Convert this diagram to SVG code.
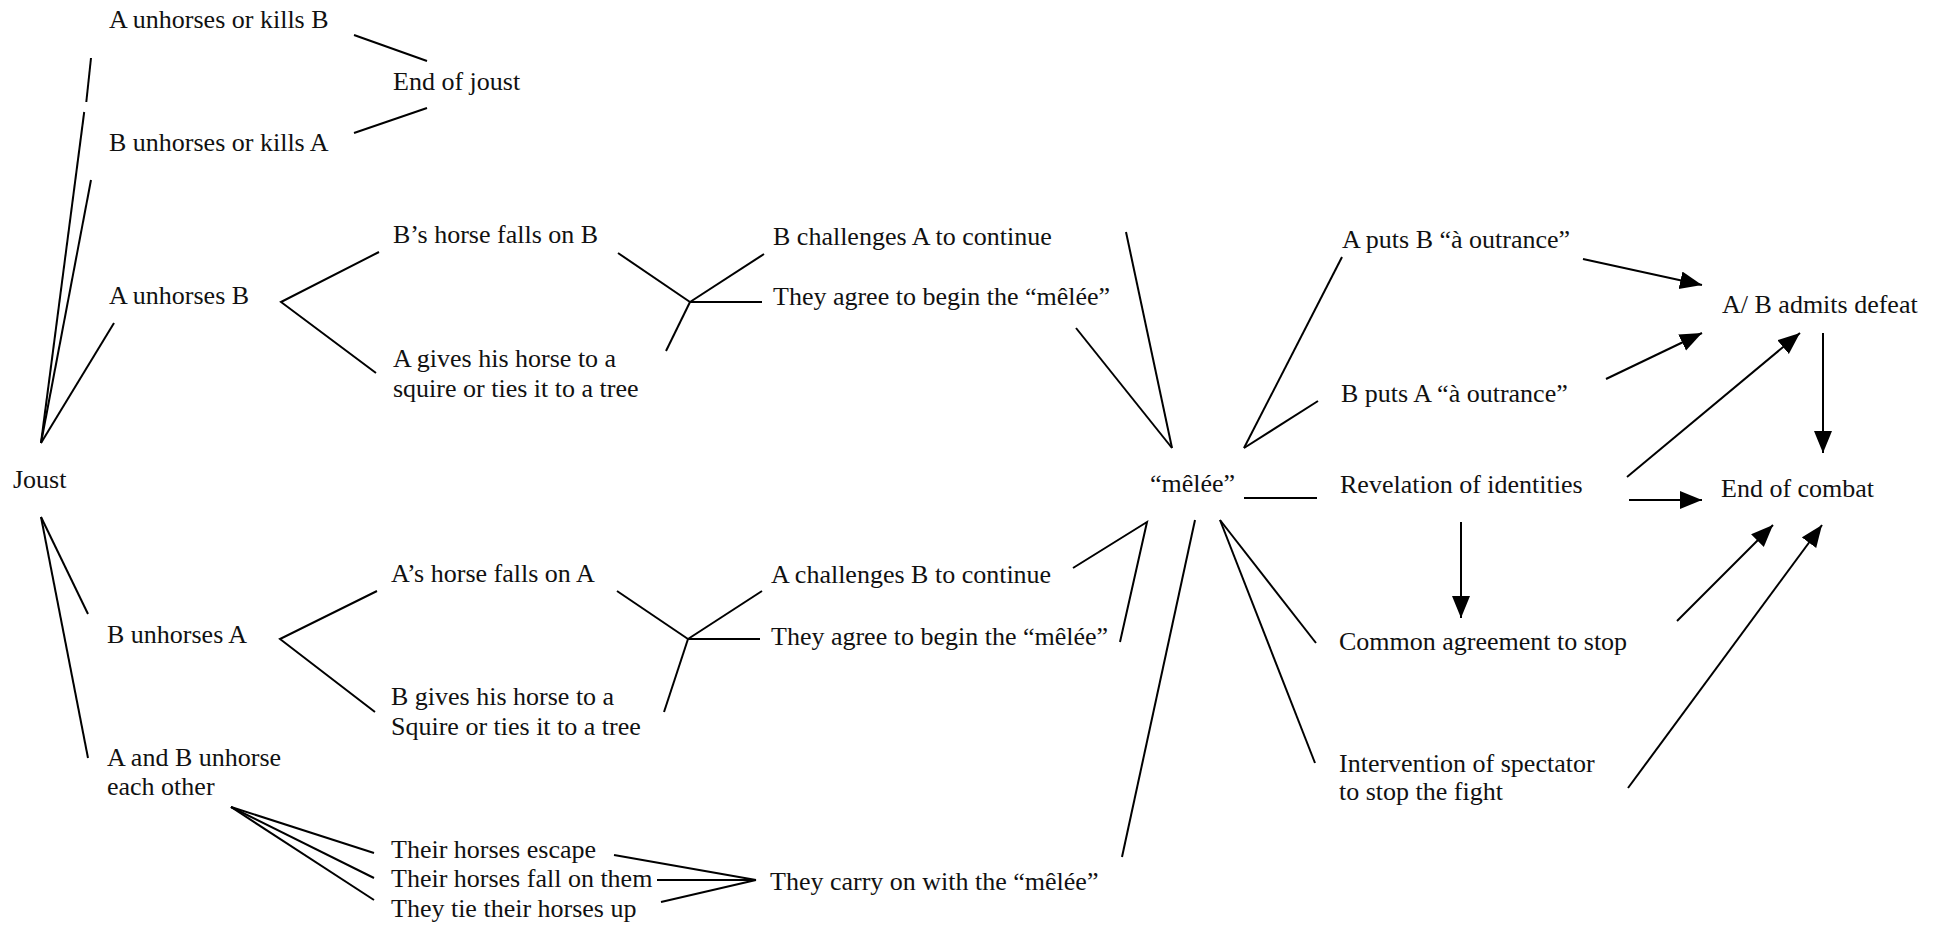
<svg xmlns="http://www.w3.org/2000/svg" width="1946" height="927" viewBox="0 0 1946 927">
<style>
text{font-family:"Liberation Serif","Times New Roman",serif;font-size:26px;fill:#111}
.c line,.c polyline{stroke:#000;stroke-width:2;fill:none}
.a{marker-end:url(#ah)}
</style>
<defs>
<marker id="ah" markerUnits="userSpaceOnUse" markerWidth="26" markerHeight="20" refX="22" refY="9" orient="auto">
<path d="M0,0 L22,9 L0,18 z" fill="#000"/>
</marker>
</defs>
<rect width="1946" height="927" fill="#fff"/>
<g id="n-joust"><text x="13" y="488">Joust</text></g>
<g id="n-akillsb"><text x="109" y="28">A unhorses or kills B</text></g>
<g id="n-endjoust"><text x="393" y="90">End of joust</text></g>
<g id="n-bkillsa"><text x="109" y="151">B unhorses or kills A</text></g>
<g id="n-aunhorsesb"><text x="109" y="304">A unhorses B</text></g>
<g id="n-bhorse"><text x="393" y="243">B’s horse falls on B</text></g>
<g id="n-agives"><text x="393" y="367">A gives his horse to a</text><text x="393" y="397">squire or ties it to a tree</text></g>
<g id="n-bchall"><text x="773" y="245">B challenges A to continue</text></g>
<g id="n-agree1"><text x="773" y="305">They agree to begin the “mêlée”</text></g>
<g id="n-bunhorsesa"><text x="107" y="643">B unhorses A</text></g>
<g id="n-ahorse"><text x="391" y="582">A’s horse falls on A</text></g>
<g id="n-bgives"><text x="391" y="705">B gives his horse to a</text><text x="391" y="735">Squire or ties it to a tree</text></g>
<g id="n-achall"><text x="771" y="583">A challenges B to continue</text></g>
<g id="n-agree2"><text x="771" y="645">They agree to begin the “mêlée”</text></g>
<g id="n-both"><text x="107" y="766">A and B unhorse</text><text x="107" y="795">each other</text></g>
<g id="n-escape"><text x="391" y="858">Their horses escape</text></g>
<g id="n-fall"><text x="391" y="887">Their horses fall on them</text></g>
<g id="n-tie"><text x="391" y="917">They tie their horses up</text></g>
<g id="n-carry"><text x="770" y="890">They carry on with the “mêlée”</text></g>
<g id="n-melee"><text x="1150" y="492">“mêlée”</text></g>
<g id="n-aputs"><text x="1342" y="248">A puts B “à outrance”</text></g>
<g id="n-bputs"><text x="1341" y="402">B puts A “à outrance”</text></g>
<g id="n-reveal"><text x="1340" y="493">Revelation of identities</text></g>
<g id="n-common"><text x="1339" y="650">Common agreement to stop</text></g>
<g id="n-interv"><text x="1339" y="772">Intervention of spectator</text><text x="1339" y="800">to stop the fight</text></g>
<g id="n-defeat"><text x="1722" y="313">A/ B admits defeat</text></g>
<g id="n-endcombat"><text x="1721" y="497">End of combat</text></g>
<g id="connectors" class="c">
<line x1="41" y1="443" x2="84.2" y2="112"/>
<line x1="86.3" y1="102" x2="91" y2="58"/>
<line x1="41" y1="443" x2="91" y2="180"/>
<line x1="41" y1="443" x2="114" y2="323"/>
<line x1="354" y1="35" x2="427" y2="61"/>
<line x1="354" y1="133" x2="427" y2="108"/>
<polyline points="379,252 281,302 376,373"/>
<line x1="618" y1="253" x2="690" y2="302"/>
<line x1="690" y1="302" x2="764" y2="254"/>
<line x1="690" y1="302" x2="762" y2="302"/>
<line x1="690" y1="302" x2="666" y2="351"/>
<line x1="41" y1="517" x2="88" y2="614"/>
<line x1="41" y1="517" x2="88" y2="758"/>
<polyline points="377,591 280,639 375,712"/>
<line x1="617" y1="591" x2="688" y2="639"/>
<line x1="688" y1="639" x2="762" y2="591"/>
<line x1="688" y1="639" x2="760" y2="639"/>
<line x1="688" y1="639" x2="664" y2="712"/>
<line x1="231" y1="807" x2="374" y2="853"/>
<line x1="231" y1="807" x2="374" y2="878"/>
<line x1="231" y1="807" x2="374" y2="900"/>
<line x1="614" y1="855" x2="756" y2="880"/>
<line x1="657" y1="880" x2="756" y2="880"/>
<line x1="661" y1="902" x2="756" y2="880"/>
<line x1="1126" y1="232" x2="1172" y2="448"/>
<line x1="1076" y1="328" x2="1172" y2="448"/>
<line x1="1244" y1="448" x2="1342" y2="257"/>
<line x1="1244" y1="448" x2="1318" y2="401"/>
<line x1="1244" y1="498" x2="1317" y2="498"/>
<polyline points="1073,568 1147,522 1120,642"/>
<line x1="1195" y1="520" x2="1122" y2="857"/>
<line x1="1220" y1="520" x2="1316" y2="643"/>
<line x1="1220" y1="520" x2="1315" y2="763"/>
<line class="a" x1="1583" y1="259" x2="1702" y2="285"/>
<line class="a" x1="1606" y1="379" x2="1702" y2="333"/>
<line class="a" x1="1627" y1="477" x2="1800" y2="333"/>
<line class="a" x1="1823" y1="333" x2="1823" y2="453"/>
<line class="a" x1="1629" y1="500" x2="1702" y2="500"/>
<line class="a" x1="1461" y1="522" x2="1461" y2="618"/>
<line class="a" x1="1677" y1="621" x2="1773" y2="525"/>
<line class="a" x1="1628" y1="788" x2="1822" y2="525"/>
</g>
</svg>
